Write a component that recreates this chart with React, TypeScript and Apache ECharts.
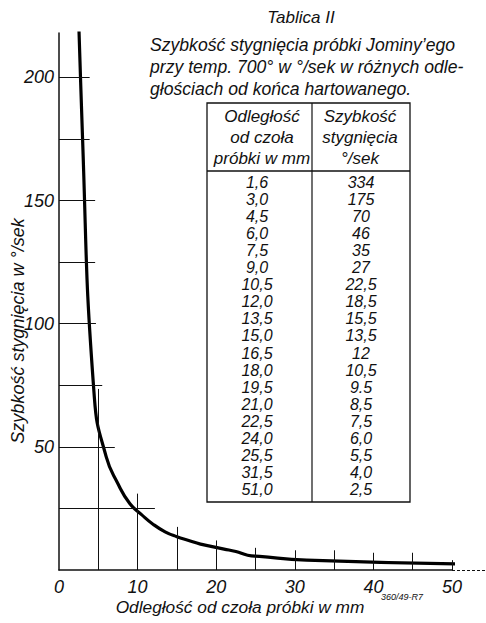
import React, { useEffect, useRef } from 'react';
import * as echarts from 'echarts';

// Table data (as printed)
const distanceLabels = ['1,6', '3,0', '4,5', '6,0', '7,5', '9,0', '10,5', '12,0', '13,5', '15,0', '16,5', '18,0', '19,5', '21,0', '22,5', '24,0', '25,5', '31,5', '51,0'];
const rateLabels = ['334', '175', '70', '46', '35', '27', '22,5', '18,5', '15,5', '13,5', '12', '10,5', '9.5', '8,5', '7,5', '6,0', '5,5', '4,0', '2,5'];
const toNum = (s: string) => parseFloat(s.replace(',', '.'));
const curveData = distanceLabels.map((d, i) => [toNum(d), toNum(rateLabels[i])]);

const xTickLabels = [0, 10, 20, 30, 40, 50];
const yTickLabels = [50, 100, 150, 200];
// partial guide lines: [y value, x end]
const hGuides = [[200, 3.9], [175, 3.9], [150, 4.6], [125, 4.6], [100, 4.7], [75, 5.5], [50, 7.1], [25, 12.2]];
// partial guide lines: [x value, y end]
const vGuides = [[5, 73.5], [10, 31], [15, 17.5], [20, 12], [25, 9], [30, 8], [35, 8], [40, 7], [45, 7], [50, 4]];

const titleText = 'Tablica II';
const titleLines = [
  'Szybkość stygnięcia próbki Jominy\u2019ego',
  'przy temp. 700° w °/sek w różnych odle-',
  'głościach od końca hartowanego.',
];
const headLeft = ['Odległość', 'od czoła', 'próbki w mm'];
const headRight = ['Szybkość', 'stygnięcia', '°/sek'];
const xName = 'Odległość od czoła próbki w mm';
const yName = 'Szybkość stygnięcia w °/sek';
const refCode = '360/49-R7';

const FONT = '"Liberation Sans", Arial, sans-serif';
const INK = '#111';

export default function App() {
  const ref = useRef<HTMLDivElement>(null);
  useEffect(() => {
    document.body.style.margin = '0';
    const chart = echarts.init(ref.current!, null, { renderer: 'svg' });

    const tFont = (size: number) => ({ fontFamily: FONT, fontStyle: 'italic', fontSize: size, fill: INK });

    const graphic: any[] = [];
    graphic.push({ type: 'text', x: 301, y: 17, style: { text: titleText, align: 'center', verticalAlign: 'middle', ...tFont(17) } });
    titleLines.forEach((t, i) => {
      graphic.push({ type: 'text', x: 150, y: 45 + i * 22, style: { text: t, align: 'left', verticalAlign: 'middle', ...tFont(17.6) } });
    });
    // table frame
    const tl = 207, tr = 410, tt = 103, tb = 502, tm = 312, th = 171;
    graphic.push({ type: 'rect', shape: { x: tl, y: tt, width: tr - tl, height: tb - tt }, style: { fill: '#fff', stroke: INK, lineWidth: 1.3 } });
    graphic.push({ type: 'line', shape: { x1: tm, y1: tt, x2: tm, y2: tb }, style: { stroke: INK, lineWidth: 1.2 } });
    graphic.push({ type: 'line', shape: { x1: tl, y1: th, x2: tr, y2: th }, style: { stroke: INK, lineWidth: 1.5 } });
    headLeft.forEach((t, i) => {
      graphic.push({ type: 'text', x: 262, y: 116 + i * 21, style: { text: t, align: 'center', verticalAlign: 'middle', ...tFont(17) } });
    });
    headRight.forEach((t, i) => {
      graphic.push({ type: 'text', x: 360, y: 116 + i * 21, style: { text: t, align: 'center', verticalAlign: 'middle', ...tFont(17) } });
    });
    distanceLabels.forEach((t, i) => {
      const y = 182 + i * 17.1;
      graphic.push({ type: 'text', x: 257, y, style: { text: t, align: 'center', verticalAlign: 'middle', ...tFont(16) } });
      graphic.push({ type: 'text', x: 361, y, style: { text: rateLabels[i], align: 'center', verticalAlign: 'middle', ...tFont(16) } });
    });
    // axis names
    graphic.push({ type: 'text', x: 240, y: 607, style: { text: xName, align: 'center', verticalAlign: 'middle', ...tFont(17.3) } });
    graphic.push({ type: 'text', x: 18, y: 331, rotation: Math.PI / 2, style: { text: yName, align: 'center', verticalAlign: 'middle', ...tFont(18) } });
    graphic.push({ type: 'text', x: 402, y: 597, style: { text: refCode, align: 'center', verticalAlign: 'middle', ...tFont(9) } });
    // x axis line extension
    graphic.push({ type: 'line', shape: { x1: 452, y1: 570.5, x2: 486, y2: 570.5 }, style: { stroke: INK, lineWidth: 1.2, lineDash: [3, 2] } });

    const guideLines: any[] = [];
    hGuides.forEach(([y, xe]) => guideLines.push([{ coord: [0, y] }, { coord: [xe, y] }]));
    vGuides.forEach(([x, ye]) => guideLines.push([{ coord: [x, 0] }, { coord: [x, ye] }]));

    chart.setOption({
      animation: false,
      grid: { left: 59, right: 34, top: 33, bottom: 53, containLabel: false },
      xAxis: {
        type: 'value', min: 0, max: 50, interval: 10,
        axisLine: { lineStyle: { color: INK, width: 1.5 } },
        axisTick: { show: false },
        splitLine: { show: false },
        axisLabel: {
          margin: 8, color: INK, fontSize: 18, fontStyle: 'italic', fontFamily: FONT,
          formatter: (v: number) => (xTickLabels.includes(v) ? String(v) : ''),
        },
      },
      yAxis: {
        type: 'value', min: 0, max: 218, interval: 50,
        axisLine: { show: true, lineStyle: { color: INK, width: 1.5 } },
        axisTick: { show: false },
        splitLine: { show: false },
        axisLabel: {
          margin: 5, color: INK, fontSize: 18, fontStyle: 'italic', fontFamily: FONT,
          showMaxLabel: false,
          formatter: (v: number) => (yTickLabels.includes(v) ? String(v) : ''),
        },
      },
      series: [
        {
          type: 'line',
          data: curveData,
          smooth: true,
          showSymbol: false,
          clip: true,
          lineStyle: { color: '#000', width: 3.2 },
          z: 3,
          markLine: {
            silent: true,
            symbol: ['none', 'none'],
            label: { show: false },
            lineStyle: { color: INK, width: 1, type: 'solid' },
            data: guideLines,
          },
        },
      ],
      graphic,
    });
    return () => chart.dispose();
  }, []);
  return <div ref={ref} style={{ width: 486, height: 623 }} />;
}
